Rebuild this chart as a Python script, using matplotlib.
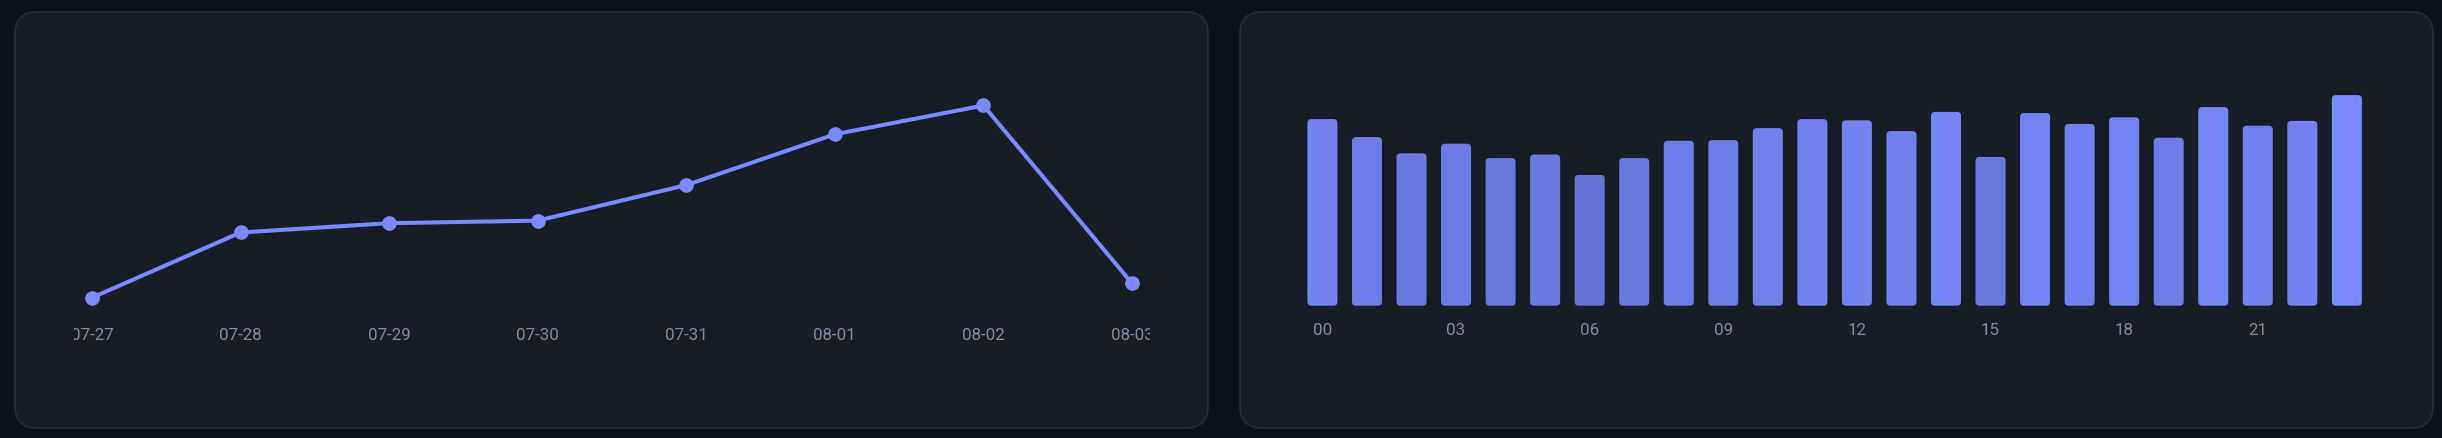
import numpy as np
import matplotlib
matplotlib.use("Agg")
import matplotlib.pyplot as plt
from matplotlib.patches import FancyBboxPatch
from matplotlib.transforms import Bbox, TransformedBbox

plt.rcParams['font.family'] = ['Roboto', 'DejaVu Sans']

# 数据
days = ["07-27", "07-28", "07-29", "07-30", "07-31", "08-01", "08-02", "08-03"]
day_counts = [24, 101, 112, 115, 157, 217, 251, 41]

hours = ["%02d" % h for h in range(24)]
hour_counts = [311, 281, 254, 270, 246, 252, 218, 246, 275, 276, 296, 311,
               309, 291, 323, 248, 321, 303, 314, 280, 331, 300, 308, 351]

# 颜色
bg = "#0e1219"
panel = "#181c25"
edge = "#272d3a"
accent = "#7b88ff"
label_c = "#7f8aa0"

W, H = 2442, 438
fig = plt.figure(figsize=(W / 100, H / 100), dpi=100, facecolor=bg)


def px_axes(x0, y0, x1, y1, **kw):
    # 像素坐标 (左上为原点) -> 图坐标
    return fig.add_axes([x0 / W, 1 - y1 / H, (x1 - x0) / W, (y1 - y0) / H], **kw)


# 背景卡片
bg_ax = px_axes(0, 0, W, H)
bg_ax.set_xlim(0, W)
bg_ax.set_ylim(H, 0)
bg_ax.axis("off")
for x0 in (15, 1240):
    card = FancyBboxPatch((x0, 12), 1193, 416,
                          boxstyle="round,pad=0,rounding_size=22",
                          facecolor=panel, edgecolor=edge, linewidth=1.2)
    bg_ax.add_patch(card)

# 折线图
ax1 = px_axes(74, 64, 1150, 318)
ax1.set_facecolor("none")
x = np.arange(len(days))
ax1.plot(x, day_counts, color=accent, linewidth=2.9, marker="o",
         markersize=9.5, clip_on=False, solid_joinstyle="round")
ax1.set_xlim(-0.121, 7.121)
ax1.set_ylim(0, 300)
ax1.set_xticks(x)
ax1.set_xticklabels(days)
ax1.set_yticks([])
ax1.tick_params(axis="x", length=0, pad=7, labelsize=12.2, labelcolor=label_c)
for s in ax1.spines.values():
    s.set_visible(False)
clip1 = TransformedBbox(Bbox.from_extents(74 / W, 0, 1150 / W, 1), fig.transFigure)
for lbl in ax1.get_xticklabels():
    lbl.set_clip_box(clip1)
    lbl.set_clip_on(True)

# 柱状图
ax2 = px_axes(1295.7, 65.7, 1373.6 + 1000, 305.7)
ax2.set_facecolor("none")
hx = np.arange(len(hours))
ax2.set_xlim(-0.6, 23.6)
ax2.set_ylim(0, 400)
bars = ax2.bar(hx, hour_counts, width=0.674, color="none")
vmax = max(hour_counts)
# 圆角: 按像素比例修正
px_x = 44.54
px_y = 240 / 400
for b, v in zip(bars, hour_counts):
    b.set_visible(False)
    fb = FancyBboxPatch((b.get_x(), 0), b.get_width(), v,
                        boxstyle="round,pad=0,rounding_size=%f" % (4 / px_x),
                        mutation_aspect=px_x / px_y,
                        facecolor=accent, edgecolor="none",
                        alpha=0.5 + 0.5 * v / vmax)
    ax2.add_patch(fb)
ax2.set_xticks(hx[::3])
ax2.set_xticklabels(hours[::3])
ax2.set_yticks([])
ax2.tick_params(axis="x", length=0, pad=12.5, labelsize=12.2, labelcolor=label_c)
for s in ax2.spines.values():
    s.set_visible(False)

plt.savefig("out.png", dpi=100, facecolor=bg)
